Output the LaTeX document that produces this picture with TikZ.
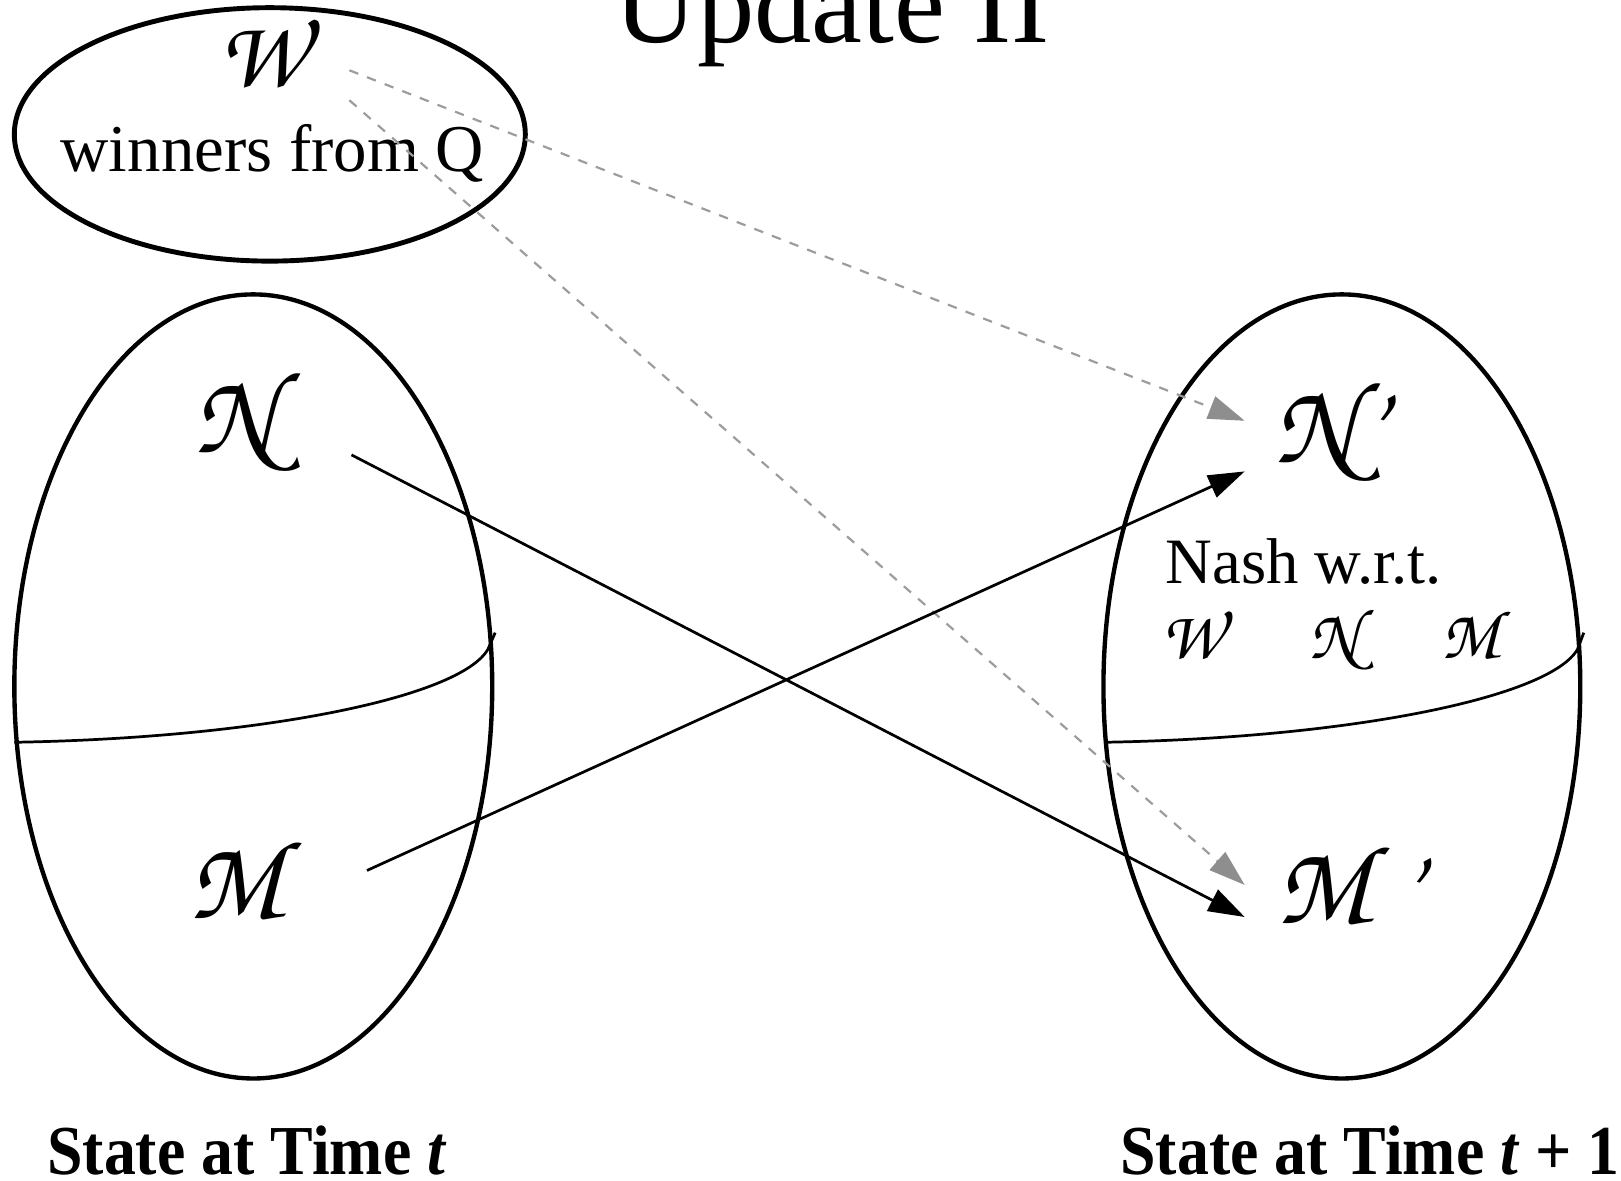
\documentclass[tikz,border=0pt]{standalone}
\usepackage[T1]{fontenc}
\usepackage{fontspec}
\setmainfont{Liberation Serif}
\usetikzlibrary{shapes.geometric,arrows.meta}
\newcommand\zc{\fontencoding{T1}\fontfamily{pzc}\fontseries{mb}\fontshape{it}\selectfont}
\definecolor{dashgray}{HTML}{9C9C9C}
\definecolor{headgray}{HTML}{8E8E8E}
\begin{document}
\begin{tikzpicture}[x=0.01cm,y=-0.01cm,
  ell/.style={draw, ellipse, inner sep=0pt, line width=1.2pt},
  lbl/.style={inner sep=0pt, anchor=base west},
  solidarrow/.style={line width=0.75pt, -{Triangle[length=10pt,width=6.5pt]}},
  grayarrow/.style={draw=dashgray, line width=0.6pt, dash pattern=on 2.6pt off 2.6pt,
    -{Triangle[length=10pt,width=6.5pt,color=headgray]}},
  divider/.style={line width=0.75pt}]
\useasboundingbox (0,0) rectangle (1568,1142);
% ellipses
\node[ell, line width=1.35pt, minimum width=4.94cm, minimum height=2.45cm] (T) at (261,130) {};
\node[ell, minimum width=4.62cm, minimum height=7.58cm] (L) at (245,664) {};
\node[ell, minimum width=4.61cm, minimum height=7.58cm] (R) at (1298,664) {};
% dividing curves
\draw[divider] (14,718) .. controls (250,714) and (445,675) .. (472,628) -- (479,612);
\draw[divider] (1068,718) .. controls (1304,714) and (1499,675) .. (1526,628) -- (1532,612);
% title
\node[inner sep=0pt, anchor=base] (title) at (805,41) {\fontsize{31.5}{36}\selectfont Update II};
% top ellipse text
\node[inner sep=0pt, anchor=base] (W) at (253,84) {\fontsize{27}{30}\zc W};
\node[lbl] (winners) at (58,166) {\fontsize{18.4}{22}\selectfont winners from Q};
% left set labels
\node[inner sep=0pt, anchor=base] (N) at (228,438) {\fontsize{32}{36}\zc N};
\node[inner sep=0pt, anchor=base] (M) at (228,888) {\fontsize{31}{36}\zc M};
% right set labels
\node[lbl] (Np) at (1232,447) {\fontsize{32}{36}\zc N\kern-0.5pt'};
\node[lbl] (Mp) at (1234,893) {\fontsize{31}{36}\zc M\kern5.5pt'};
\node[lbl] (nash) at (1127,564) {\fontsize{17.8}{21}\selectfont Nash w.r.t.};
\node[inner sep=0pt, anchor=base] (rW) at (1153,637) {\fontsize{19}{22}\zc W};
\node[inner sep=0pt, anchor=base] (rN) at (1291,637) {\fontsize{19.5}{22}\zc N};
\node[inner sep=0pt, anchor=base] (rM) at (1422,637) {\fontsize{19}{22}\zc M};
% bottom labels
\node[inner sep=0pt, anchor=base west] (capL) at (45,1136) {\scalebox{0.91}[1]{\fontsize{19.3}{22}\bfseries State at Time \textit{t}}};
\node[inner sep=0pt, anchor=base west] (capR) at (1083,1136) {\scalebox{0.91}[1]{\fontsize{19.3}{22}\bfseries State at Time \textit{t} + 1}};
% connector ends
\coordinate (nStart) at (340,440);
\coordinate (mStart) at (355,842);
\coordinate (wStartA) at (338,68);
\coordinate (wStartB) at (338,97);
\coordinate (npEnd) at (1204,456);
\coordinate (mpEnd) at (1204,887);
\coordinate (npEndG) at (1204,407);
\coordinate (mpEndG) at (1204,856);
% connectors
\draw[grayarrow] (wStartA) -- (npEndG);
\draw[grayarrow] (wStartB) -- (mpEndG);
\draw[solidarrow] (nStart) -- (mpEnd);
\draw[solidarrow] (mStart) -- (npEnd);
\end{tikzpicture}
\end{document}
